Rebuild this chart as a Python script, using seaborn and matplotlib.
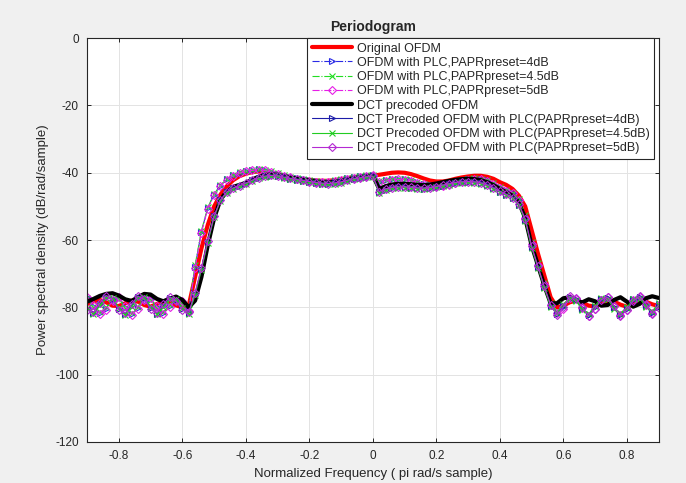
import numpy as np
import matplotlib
matplotlib.use("Agg")
import matplotlib.pyplot as plt
import seaborn as sns

# normalized frequency bins (x pi rad/sample)
freq = np.round(np.linspace(-0.9, 0.9, 91), 2)

# PSD curves (dB/rad/sample), one value per bin
orig_ofdm = [
    -79.0, -78.2, -77.8, -78.5, -79.5, -79.6, -78.8, -78.0, -78.3, -79.3,
    -79.8, -79.0, -78.2, -78.4, -79.4, -80.0, -79.5, -71.0, -62.5, -55.5,
    -50.0, -46.5, -44.0, -42.2, -41.0, -40.3, -39.8, -39.6, -39.8, -40.2,
    -40.7, -41.1, -41.4, -41.7, -41.9, -42.1, -42.3, -42.4, -42.4, -42.2,
    -41.9, -41.6, -41.3, -41.1, -41.0, -40.9, -40.6, -40.3, -40.0, -39.9,
    -40.0, -40.4, -41.0, -41.7, -42.3, -42.6, -42.6, -42.3, -41.8, -41.4,
    -41.1, -40.9, -40.9, -41.2, -41.8, -42.8, -43.6, -44.8, -46.8, -50.0,
    -57.0, -64.0, -70.5, -77.0, -80.0, -79.5, -78.5, -78.0, -78.6, -79.5,
    -79.7, -78.9, -78.1, -78.3, -79.2, -79.8, -79.1, -78.2, -78.3, -79.1,
    -79.6]

plc_4db = [
    -77.0, -79.5, -81.8, -80.5, -77.8, -77.2, -79.8, -82.0, -80.2, -77.5,
    -77.4, -80.0, -81.7, -79.6, -77.6, -78.5, -80.8, -68.0, -57.5, -50.5,
    -46.5, -43.8, -42.0, -40.8, -40.0, -39.5, -39.2, -39.0, -39.2, -39.7,
    -40.3, -40.9, -41.3, -41.7, -42.0, -42.3, -42.5, -42.7, -42.6, -42.4,
    -42.1, -41.7, -41.4, -41.1, -40.9, -40.7, -42.6, -42.3, -42.0, -41.9,
    -42.0, -42.3, -42.8, -43.3, -43.7, -43.9, -43.8, -43.4, -42.9, -42.4,
    -42.0, -41.8, -41.9, -42.3, -43.2, -44.3, -45.2, -46.0, -48.0, -53.0,
    -61.0, -67.0, -73.0, -79.0, -81.5, -80.0, -77.4, -77.8, -80.4, -82.2,
    -80.0, -77.5, -77.3, -79.8, -82.0, -80.3, -77.6, -77.2, -79.6, -81.5,
    -79.0]

plc_45db = [
    -77.3, -79.9, -81.5, -80.0, -77.5, -77.5, -80.2, -81.7, -79.8, -77.3,
    -77.8, -80.4, -81.4, -79.2, -77.4, -78.9, -80.5, -67.5, -57.2, -50.3,
    -46.3, -43.7, -41.9, -40.7, -39.9, -39.4, -39.1, -38.9, -39.1, -39.6,
    -40.2, -40.8, -41.3, -41.6, -42.0, -42.2, -42.5, -42.6, -42.6, -42.3,
    -42.0, -41.7, -41.3, -41.1, -40.8, -40.6, -42.4, -42.2, -41.9, -41.8,
    -41.9, -42.2, -42.7, -43.2, -43.6, -43.8, -43.7, -43.3, -42.8, -42.3,
    -41.9, -41.7, -41.8, -42.2, -43.1, -44.2, -45.1, -45.9, -47.8, -52.7,
    -60.6, -66.7, -72.8, -78.7, -81.2, -79.6, -77.6, -78.1, -80.7, -81.9,
    -79.6, -77.4, -77.6, -80.2, -81.7, -79.9, -77.4, -77.5, -80.0, -81.2,
    -78.7]

plc_5db = [
    -76.8, -79.2, -82.1, -80.8, -78.1, -76.9, -79.5, -82.3, -80.5, -77.8,
    -77.1, -79.7, -82.0, -79.9, -77.9, -78.2, -81.1, -68.4, -57.8, -50.7,
    -46.6, -43.9, -42.1, -40.9, -40.1, -39.6, -39.3, -39.1, -39.3, -39.8,
    -40.4, -41.0, -41.4, -41.8, -42.1, -42.4, -42.6, -42.8, -42.7, -42.5,
    -42.2, -41.8, -41.5, -41.2, -41.0, -40.8, -42.8, -42.5, -42.1, -42.0,
    -42.1, -42.4, -42.9, -43.4, -43.8, -44.0, -43.9, -43.5, -43.0, -42.5,
    -42.1, -41.9, -42.0, -42.4, -43.3, -44.4, -45.3, -46.1, -48.2, -53.3,
    -61.3, -67.3, -73.2, -79.3, -81.8, -80.4, -77.2, -77.5, -80.1, -82.5,
    -80.4, -77.7, -77.0, -79.5, -82.3, -80.7, -77.9, -76.9, -79.3, -81.8,
    -79.3]

dct_ofdm = [
    -78.3, -77.5, -76.6, -76.0, -75.8, -76.5, -77.6, -78.1, -77.0, -76.0,
    -76.2, -77.5, -78.2, -77.4, -76.8, -77.8, -80.0, -78.0, -71.0, -61.5,
    -53.5, -48.0, -45.5, -44.2, -43.6, -43.0, -42.0, -41.2, -40.7, -40.5,
    -40.6, -41.0, -41.4, -41.7, -42.0, -42.3, -42.6, -42.8, -42.9, -42.7,
    -42.4, -42.0, -41.6, -41.3, -41.0, -40.8, -44.8, -44.0, -43.5, -43.3,
    -43.3, -43.4, -43.6, -43.7, -43.5, -43.2, -42.8, -42.4, -42.1, -41.9,
    -41.8, -41.9, -42.2, -42.8, -43.7, -44.8, -45.8, -46.8, -48.8, -53.5,
    -61.5, -67.5, -73.5, -78.8, -78.8, -77.3, -77.0, -78.0, -78.5, -77.6,
    -78.2, -79.5, -79.3, -77.8, -77.0, -78.3, -79.8, -79.0, -77.3, -76.7,
    -77.2]

dct_plc_4db = [
    -80.5, -81.8, -79.0, -76.8, -77.5, -80.5, -82.0, -79.4, -77.0, -77.3,
    -80.2, -81.9, -79.5, -77.2, -77.8, -80.6, -81.8, -76.0, -68.5, -60.5,
    -53.0, -48.2, -45.8, -44.6, -43.9, -43.2, -42.3, -41.6, -41.1, -40.9,
    -41.0, -41.4, -41.8, -42.1, -42.4, -42.7, -43.0, -43.2, -43.3, -43.1,
    -42.8, -42.3, -41.9, -41.6, -41.3, -41.1, -45.8, -45.0, -44.5, -44.3,
    -44.3, -44.4, -44.6, -44.7, -44.5, -44.2, -43.8, -43.4, -43.0, -42.8,
    -42.7, -42.8, -43.1, -43.7, -44.6, -45.6, -46.5, -47.5, -49.5, -54.0,
    -62.0, -68.0, -74.0, -79.5, -82.0, -79.5, -77.0, -77.6, -80.3, -82.3,
    -80.0, -77.4, -77.3, -80.0, -82.3, -80.5, -77.8, -77.0, -79.3, -81.6,
    -79.8]

dct_plc_45db = [
    -80.1, -82.0, -79.4, -77.1, -77.2, -80.1, -82.2, -79.8, -77.3, -77.0,
    -79.8, -82.1, -79.9, -77.5, -77.5, -80.2, -82.0, -76.4, -68.8, -60.8,
    -53.2, -48.3, -45.9, -44.7, -44.0, -43.3, -42.4, -41.7, -41.2, -41.0,
    -41.1, -41.5, -41.9, -42.2, -42.5, -42.8, -43.1, -43.3, -43.4, -43.2,
    -42.9, -42.4, -42.0, -41.7, -41.4, -41.2, -46.0, -45.2, -44.6, -44.4,
    -44.4, -44.5, -44.7, -44.8, -44.6, -44.3, -43.9, -43.5, -43.1, -42.9,
    -42.8, -42.9, -43.2, -43.8, -44.7, -45.7, -46.6, -47.6, -49.7, -54.3,
    -62.3, -68.2, -74.2, -79.8, -81.7, -79.1, -77.3, -77.9, -80.6, -82.0,
    -79.6, -77.2, -77.6, -80.4, -82.0, -80.1, -77.6, -77.3, -79.7, -81.3,
    -79.4]

dct_plc_5db = [
    -80.8, -81.5, -78.7, -76.5, -77.8, -80.8, -81.7, -79.0, -76.7, -77.6,
    -80.5, -81.6, -79.1, -76.9, -78.1, -80.9, -81.5, -75.6, -68.2, -60.2,
    -52.8, -48.1, -45.7, -44.5, -43.8, -43.1, -42.2, -41.5, -41.0, -40.8,
    -40.9, -41.3, -41.7, -42.0, -42.3, -42.6, -42.9, -43.1, -43.2, -43.0,
    -42.7, -42.2, -41.8, -41.5, -41.2, -41.0, -45.6, -44.8, -44.4, -44.2,
    -44.2, -44.3, -44.5, -44.6, -44.4, -44.1, -43.7, -43.3, -42.9, -42.7,
    -42.6, -42.7, -43.0, -43.6, -44.5, -45.5, -46.4, -47.4, -49.3, -53.7,
    -61.7, -67.8, -73.8, -79.2, -82.3, -79.9, -76.7, -77.3, -80.0, -82.6,
    -80.4, -77.7, -77.0, -79.6, -82.6, -80.9, -78.1, -76.7, -78.9, -81.9,
    -80.1]

xtick_vals = [-0.8, -0.6, -0.4, -0.2, 0, 0.2, 0.4, 0.6, 0.8]
xtick_labels = ["-0.8", "-0.6", "-0.4", "-0.2", "0", "0.2", "0.4", "0.6", "0.8"]
ytick_vals = [0, -20, -40, -60, -80, -100, -120]
ytick_labels = ["0", "-20", "-40", "-60", "-80", "-100", "-120"]

sns.set_style("whitegrid")
plt.rcParams["font.family"] = ["Liberation Sans", "DejaVu Sans"]
plt.rcParams["axes.unicode_minus"] = False

fig = plt.figure(figsize=(6.86, 4.83), dpi=100, facecolor="#f0f0f0")
ax = fig.add_axes([0.127, 0.085, 0.833, 0.836])
ax.set_facecolor("white")

# (data, label, color, linestyle, linewidth, marker)
series = [
    (orig_ofdm, "Original OFDM", "#ff0000", "-", 3.0, None),
    (plc_4db, "OFDM with PLC,PAPRpreset=4dB", "#2a2ae6", "-.", 0.8, ">"),
    (plc_45db, "OFDM with PLC,PAPRpreset=4.5dB", "#22dd22", "-.", 0.8, "x"),
    (plc_5db, "OFDM with PLC,PAPRpreset=5dB", "#e61ee6", "-.", 0.8, "D"),
    (dct_ofdm, "DCT precoded OFDM", "#000000", "-", 3.0, None),
    (dct_plc_4db, "DCT Precoded OFDM with PLC(PAPRpreset=4dB)", "#1c1ca8", "-", 0.8, ">"),
    (dct_plc_45db, "DCT Precoded OFDM with PLC(PAPRpreset=4.5dB)", "#22cc22", "-", 0.8, "x"),
    (dct_plc_5db, "DCT Precoded OFDM with PLC(PAPRpreset=5dB)", "#b42ad2", "-", 0.8, "D"),
]

for vals, label, color, ls, lw, mk in series:
    kw = dict(color=color, linestyle=ls, linewidth=lw, label=label)
    if mk is not None:
        kw.update(marker=mk, markersize=4.5 if mk != "D" else 3.8,
                  markerfacecolor="none", markeredgecolor=color,
                  markeredgewidth=0.8)
    sns.lineplot(x=freq, y=vals, ax=ax, **kw)

ax.set_xlim(-0.9, 0.9)
ax.set_ylim(-120, 0)
ax.set_xticks(xtick_vals)
ax.set_xticklabels(xtick_labels)
ax.set_yticks(ytick_vals)
ax.set_yticklabels(ytick_labels)
ax.grid(True, color="#e3e3e3", linewidth=0.7)
ax.tick_params(direction="in", length=3, width=0.7, labelsize=8.5,
               colors="#262626", pad=6, top=True, right=True)
ax.tick_params(axis="x", bottom=True)
ax.tick_params(axis="y", left=True)
for sp in ax.spines.values():
    sp.set_visible(True)
    sp.set_color("#262626")
    sp.set_linewidth(0.8)

ax.set_title("Periodogram", fontsize=10, fontweight="bold", pad=5)
ax.set_xlabel("Normalized Frequency ( pi rad/s sample)", fontsize=9.5, color="#262626")
ax.set_ylabel("Power spectral density (dB/rad/sample)", fontsize=9.5, color="#262626")

leg = ax.legend(loc="upper right", bbox_to_anchor=(0.992, 1.0), borderaxespad=0,
                fontsize=9, handlelength=3.2, labelspacing=0.18,
                handletextpad=0.4, borderpad=0.35, fancybox=False,
                framealpha=1, edgecolor="#262626")
leg.get_frame().set_linewidth(0.8)

fig.savefig("out.png", dpi=100, facecolor=fig.get_facecolor())
